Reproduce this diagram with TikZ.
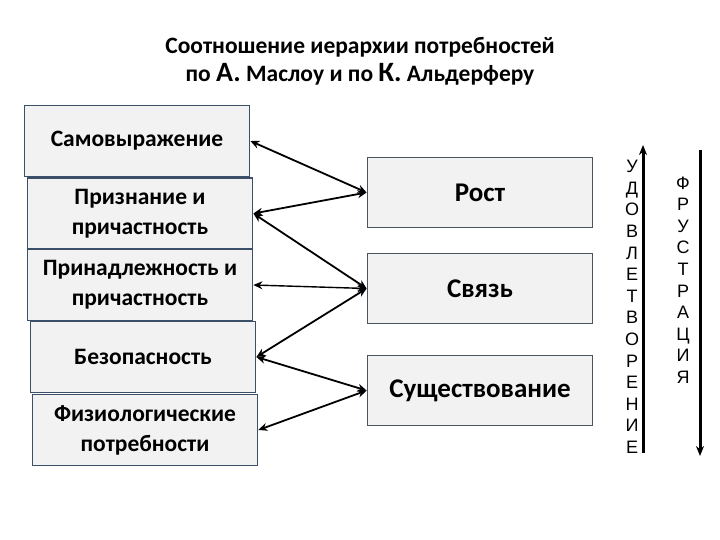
\documentclass[tikz,border=0pt]{standalone}
\usepackage{fontspec}
\setmainfont{Carlito}
\newfontfamily\letterfont{Liberation Sans}
\usetikzlibrary{arrows.meta}

\definecolor{boxfill}{HTML}{F2F2F2}
\definecolor{needline}{HTML}{3B5068}
\definecolor{ergline}{HTML}{4A5560}

\begin{document}
\begin{tikzpicture}[%
    x=1pt, y=-1pt,                      % Pixel-like units, y grows downwards
    >={Stealth[length=9pt, width=8pt]}, % Arrow heads for the links
    ]
\useasboundingbox (0,0) rectangle (720,540);
% -------------------------------------------------
% Box styles and connector styles
\tikzset{
  base/.style={draw, line width=1.8pt, fill=boxfill, align=center, inner sep=0pt,
    font={\fontsize{23.5}{30}\selectfont\bfseries}},
  need/.style={base, draw=needline, minimum width=225pt, minimum height=71pt},
  erg/.style={base, draw=ergline, minimum width=225pt, minimum height=70pt,
    font={\fontsize{27}{30}\selectfont\bfseries}},
  link/.style={<->, line width=1.8pt},
  trend/.style={->, line width=3pt, >={Stealth[length=10pt, width=8pt]}},
  letters/.style={align=center, inner sep=0pt, font={\letterfont\fontsize{18}{21.6}\selectfont}}
}
% -------------------------------------------------
% Title
\node [align=center, font={\fontsize{23.5}{28}\selectfont\bfseries}] (title) at (360,61)
  {Соотношение иерархии потребностей\\
   по {\fontsize{28}{28}\selectfont А.} Маслоу и по {\fontsize{28}{28}\selectfont К.} Альдерферу};

% Maslow's needs, stacked on the left
\node [need] (self)   at (137,141) {Самовыражение};
\node [need] (esteem) at (140,213.5) {Признание и\\причастность};
\node [need] (belong) at (140,285) {Принадлежность и\\причастность};
\node [need] (safety) at (143,357) {Безопасность};
\node [need] (body)   at (145,430) {Физиологические\\потребности};

% Alderfer's groups on the right
\node [erg] (growth)   at (480,192.5) {Рост};
\node [erg] (relation) at (480,288.5) {Связь};
\node [erg] (exist)    at (480,390.5) {Существование};

% Links between the two columns
\draw [link] (self.east)   -- (growth.west);
\draw [link] (esteem.east) -- (growth.west);
\draw [link] (esteem.east) -- (relation.west);
\draw [link, line width=1.4pt] (belong.east) -- (relation.west);
\draw [link] (safety.east) -- (relation.west);
\draw [link] (safety.east) -- (exist.west);
\draw [link] (body.east)   -- (exist.west);

% -------------------------------------------------
% Satisfaction goes up, frustration goes down
\coordinate (upbot) at (643,453);
\coordinate (uptop) at (643,145);
\coordinate (downtop) at (700,150);
\coordinate (downbot) at (700,456);
\draw [trend] (upbot) -- (uptop);
\draw [trend] (downtop) -- (downbot);
\node [letters] (satisf) at (632,307)
  {У\\Д\\О\\В\\Л\\Е\\Т\\В\\О\\Р\\Е\\Н\\И\\Е};
\node [letters] (frustr) at (683,280)
  {Ф\\Р\\У\\С\\Т\\Р\\А\\Ц\\И\\Я};

% -------------------------------------------------
\end{tikzpicture}
\end{document}
